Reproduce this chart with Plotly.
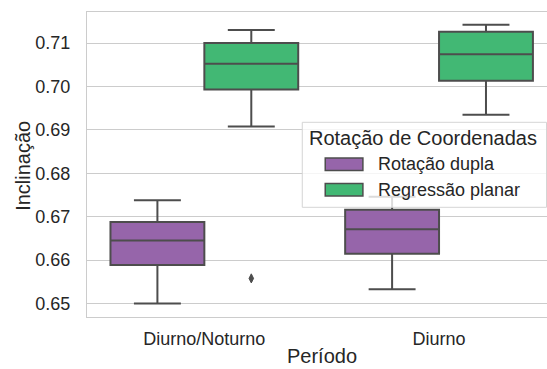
import plotly.graph_objects as go

# ---- data ----
periods = ["Diurno/Noturno", "Diurno"]
methods = ["Rotação dupla", "Regressão planar"]
lower = {"Rotação dupla": [0.6500, 0.6533], "Regressão planar": [0.6908, 0.6935]}
q1 = {"Rotação dupla": [0.6589, 0.6615], "Regressão planar": [0.6993, 0.7013]}
median = {"Rotação dupla": [0.6645, 0.6671], "Regressão planar": [0.7052, 0.7074]}
q3 = {"Rotação dupla": [0.6688, 0.6716], "Regressão planar": [0.7100, 0.7126]}
upper = {"Rotação dupla": [0.6738, 0.6746], "Regressão planar": [0.7130, 0.7142]}
outlier_method = ["Regressão planar"]
outlier_period = ["Diurno/Noturno"]
outlier_value = [0.6558]
y_ticks = [0.65, 0.66, 0.67, 0.68, 0.69, 0.70, 0.71]

# ---- style ----
colors = {"Rotação dupla": "#9665aa", "Regressão planar": "#42b874"}
edge = "#4d4d4d"
text_col = "#262626"
grid_col = "#cccccc"
font_family = "Liberation Sans, Arial, sans-serif"
W, H = 547, 369
L, R, T, B = 86.5, 547.0, 11.7, 316.7
box_w = 0.4
offsets = [-0.2, 0.2]

fig = go.Figure()
for m, off in zip(methods, offsets):
    xs = [i + off for i in range(len(periods))]
    fig.add_trace(go.Box(
        x=xs, q1=q1[m], median=median[m], q3=q3[m],
        lowerfence=lower[m], upperfence=upper[m],
        width=box_w, whiskerwidth=0.5,
        fillcolor=colors[m], line=dict(color=edge, width=2),
        name=m, showlegend=False, boxpoints=False, hoverinfo="skip",
    ))

ox = [periods.index(p) + offsets[methods.index(m)] for p, m in zip(outlier_period, outlier_method)]
fig.add_trace(go.Scatter(
    x=ox, y=outlier_value, mode="markers", showlegend=False,
    marker=dict(symbol="diamond-tall", size=6.5, color=edge, line=dict(color=edge, width=1)),
))

def px_x(p):
    return (p - L) / (R - L)

def px_y(p):
    return (B - p) / (B - T)

shapes = []
annotations = []
# legend frame
shapes.append(dict(type="rect", xref="paper", yref="paper",
                   x0=px_x(302), x1=px_x(546.5), y0=px_y(207), y1=px_y(122),
                   fillcolor="rgba(255,255,255,0.8)", line=dict(color="#d5d5d5", width=1),
                   layer="above"))
annotations.append(dict(text="Rotação de Coordenadas", xref="paper", yref="paper",
                        x=px_x(423), y=px_y(137.5), xanchor="center", yanchor="middle",
                        showarrow=False, font=dict(size=20, color=text_col, family=font_family)))
for k, m in enumerate(methods):
    cy = 164 + 25.5 * k
    shapes.append(dict(type="rect", xref="paper", yref="paper",
                       x0=px_x(325), x1=px_x(362.7), y0=px_y(cy + 6.2), y1=px_y(cy - 6.2),
                       fillcolor=colors[m], line=dict(color=edge, width=1.5), layer="above"))
    annotations.append(dict(text=m, xref="paper", yref="paper",
                            x=px_x(375.5), y=px_y(cy), xanchor="left", yanchor="middle",
                            showarrow=False, font=dict(size=18, color=text_col, family=font_family)))

# axis titles
annotations.append(dict(text="Período", xref="x", yref="paper", x=0.5, y=px_y(368.5),
                        xanchor="center", yanchor="bottom", showarrow=False,
                        font=dict(size=20, color=text_col, family=font_family)))
annotations.append(dict(text="Inclinação", xref="paper", yref="paper", x=px_x(22.5), y=px_y(165.5),
                        xanchor="center", yanchor="middle", textangle=-90, showarrow=False,
                        font=dict(size=20, color=text_col, family=font_family)))

fig.update_layout(
    width=W, height=H,
    margin=dict(l=L, r=W - R, t=T, b=H - B, pad=0),
    paper_bgcolor="white", plot_bgcolor="white",
    boxmode="overlay",
    font=dict(family=font_family, size=18, color=text_col),
    shapes=shapes, annotations=annotations,
    xaxis=dict(range=[-0.5, 1.46], tickmode="array", tickvals=list(range(len(periods))),
               ticktext=periods, showgrid=False, zeroline=False,
               showline=True, mirror=True, linecolor=grid_col, linewidth=1.3,
               ticks="", ticklabelstandoff=5, tickfont=dict(size=18, color=text_col)),
    yaxis=dict(range=[0.64691, 0.71714], tickmode="array", tickvals=y_ticks,
               ticktext=[f"{v:.2f}" for v in y_ticks], showgrid=True, gridcolor=grid_col,
               gridwidth=1.3, zeroline=False, showline=True, linecolor=grid_col, linewidth=1.3,
               ticks="", ticklabelstandoff=12, tickfont=dict(size=18, color=text_col)),
)

fig.write_html("out.html")
